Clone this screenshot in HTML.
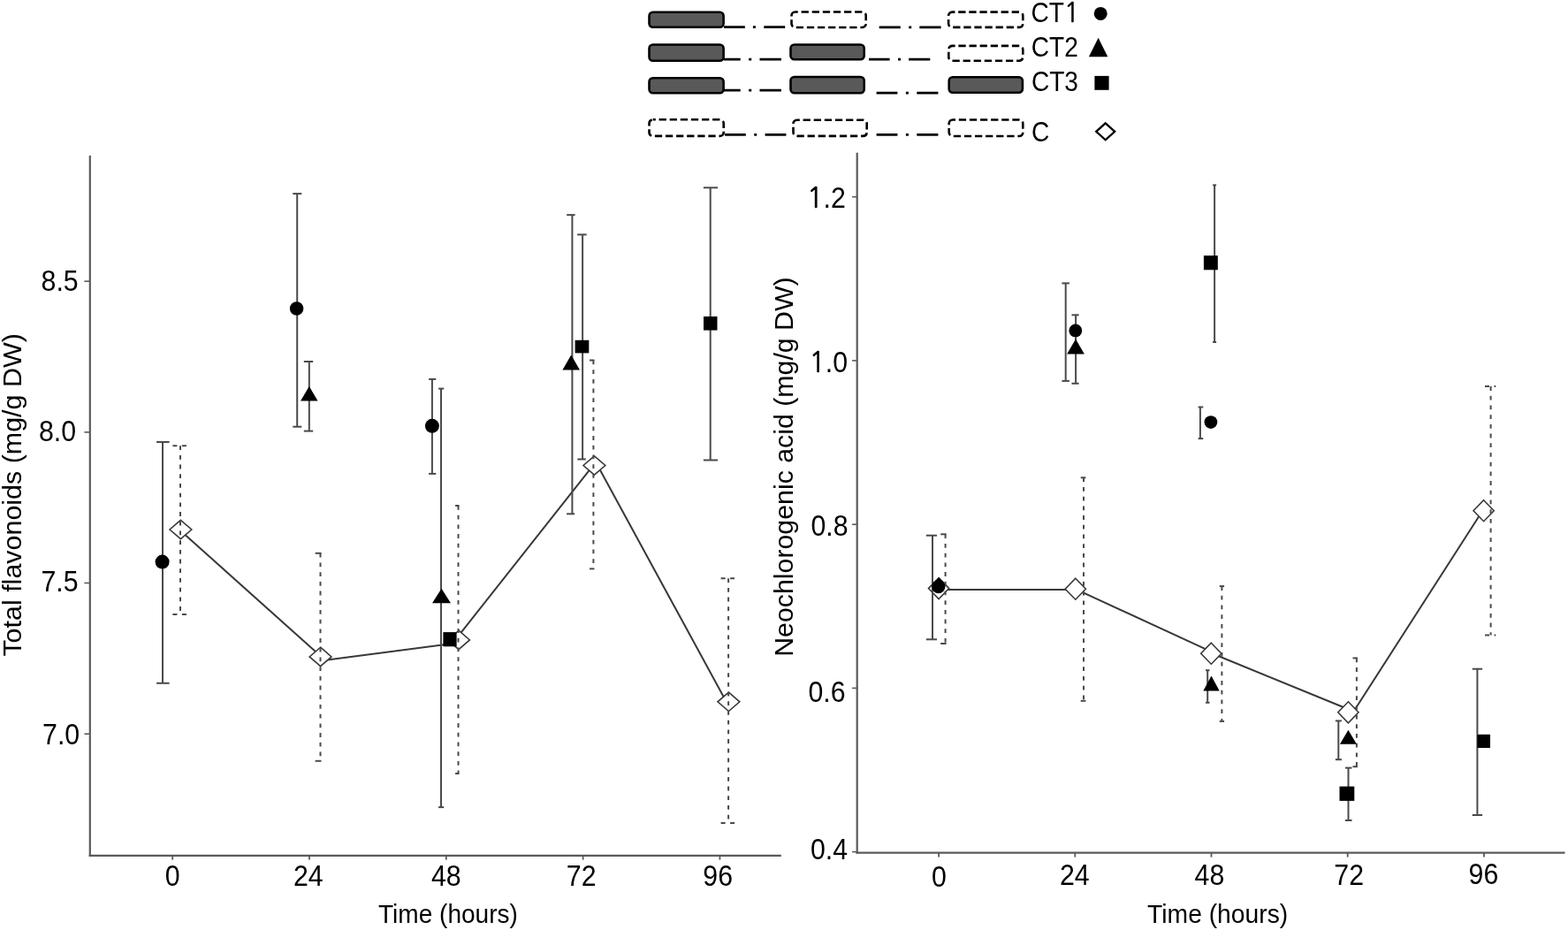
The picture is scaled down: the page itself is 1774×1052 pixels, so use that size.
<!DOCTYPE html>
<html><head><meta charset="utf-8"><title>Flavonoids and neochlorogenic acid over time</title>
<style>
html,body{margin:0;padding:0;background:#fff;}
body{width:1774px;height:1052px;overflow:hidden;}
svg{display:block;}
text{font-family:"Liberation Sans",Arial,sans-serif;fill:#000;}
</style></head>
<body>
<svg width="1774" height="1052" viewBox="0 0 1774 1052">
<rect width="1774" height="1052" fill="#fff"/>
<path d="M819 30.6H842.8M851.9 30.6H854.9M864.3 30.6H888.2" stroke="#000" stroke-width="2.7" fill="none"/>
<path d="M994.7 30.8H1018.8M1028.2 30.8H1031.2M1040.3 30.8H1064.6" stroke="#000" stroke-width="2.7" fill="none"/>
<rect x="734.50" y="13.70" width="84.10" height="17.00" rx="4.2" fill="#595959" stroke="#000" stroke-width="2.6"/>
<rect x="895.50" y="13.50" width="84.20" height="17.50" rx="4.2" fill="none" stroke="#000" stroke-width="2.6" stroke-dasharray="8.3 3.8" stroke-dashoffset="5.2"/>
<rect x="1073.10" y="13.60" width="84.20" height="17.30" rx="4.2" fill="none" stroke="#000" stroke-width="2.6" stroke-dasharray="8.3 3.8" stroke-dashoffset="5.2"/>
<path d="M819 67.2H837.7M847.2 67.2H850.2M859.5 67.2H883.9" stroke="#000" stroke-width="2.7" fill="none"/>
<path d="M983 67.2H1006.6M1016.0 67.2H1019.0M1028.1 67.2H1052.3" stroke="#000" stroke-width="2.7" fill="none"/>
<rect x="734.50" y="50.50" width="84.10" height="18.20" rx="4.2" fill="#595959" stroke="#000" stroke-width="2.6"/>
<rect x="894.50" y="50.50" width="83.20" height="16.70" rx="4.2" fill="#595959" stroke="#000" stroke-width="2.6"/>
<rect x="1073.30" y="51.90" width="84.00" height="16.80" rx="4.2" fill="none" stroke="#000" stroke-width="2.6" stroke-dasharray="8.3 3.8" stroke-dashoffset="5.2"/>
<path d="M819 102.2H837.7M847.2 102.2H850.2M859.5 102.2H883.9" stroke="#000" stroke-width="2.7" fill="none"/>
<path d="M991.6 105.2H1015.4M1024.9 105.2H1027.9M1037.3 105.2H1061.4" stroke="#000" stroke-width="2.7" fill="none"/>
<rect x="734.50" y="88.30" width="84.10" height="16.90" rx="4.2" fill="#595959" stroke="#000" stroke-width="2.6"/>
<rect x="894.50" y="87.00" width="83.20" height="18.20" rx="4.2" fill="#595959" stroke="#000" stroke-width="2.6"/>
<rect x="1073.70" y="87.20" width="83.20" height="17.50" rx="4.2" fill="#595959" stroke="#000" stroke-width="2.6"/>
<path d="M820 152.3H843.8M853.2 152.3H856.2M865.6 152.3H889.4" stroke="#000" stroke-width="2.7" fill="none"/>
<path d="M991.6 152.3H1015.4M1024.9 152.3H1027.9M1037.3 152.3H1061.4" stroke="#000" stroke-width="2.7" fill="none"/>
<rect x="734.50" y="135.30" width="84.20" height="18.60" rx="4.2" fill="none" stroke="#000" stroke-width="2.6" stroke-dasharray="8.3 3.8" stroke-dashoffset="5.2"/>
<rect x="897.50" y="135.70" width="83.20" height="18.20" rx="4.2" fill="none" stroke="#000" stroke-width="2.6" stroke-dasharray="8.3 3.8" stroke-dashoffset="5.2"/>
<rect x="1073.70" y="135.50" width="83.60" height="18.50" rx="4.2" fill="none" stroke="#000" stroke-width="2.6" stroke-dasharray="8.3 3.8" stroke-dashoffset="5.2"/>
<line x1="101.8" y1="176" x2="101.8" y2="968.9" stroke="#5a5a5a" stroke-width="2.2" />
<line x1="100.7" y1="967.8" x2="883.8" y2="967.8" stroke="#5a5a5a" stroke-width="2.2" />
<line x1="969.7" y1="172.8" x2="969.7" y2="965.8" stroke="#5a5a5a" stroke-width="2.2" />
<line x1="968.6" y1="964.7" x2="1770.5" y2="964.7" stroke="#5a5a5a" stroke-width="2.2" />
<line x1="95.4" y1="318.2" x2="101.8" y2="318.2" stroke="#5a5a5a" stroke-width="1.6" />
<line x1="95.4" y1="488.9" x2="101.8" y2="488.9" stroke="#5a5a5a" stroke-width="1.6" />
<line x1="95.4" y1="659.5" x2="101.8" y2="659.5" stroke="#5a5a5a" stroke-width="1.6" />
<line x1="95.4" y1="830.2" x2="101.8" y2="830.2" stroke="#5a5a5a" stroke-width="1.6" />
<line x1="195.2" y1="967.8" x2="195.2" y2="972.6" stroke="#5a5a5a" stroke-width="1.8" />
<line x1="350" y1="967.8" x2="350" y2="972.6" stroke="#5a5a5a" stroke-width="1.8" />
<line x1="504.8" y1="967.8" x2="504.8" y2="972.6" stroke="#5a5a5a" stroke-width="1.8" />
<line x1="659.6" y1="967.8" x2="659.6" y2="972.6" stroke="#5a5a5a" stroke-width="1.8" />
<line x1="814.4" y1="967.8" x2="814.4" y2="972.6" stroke="#5a5a5a" stroke-width="1.8" />
<line x1="964.1" y1="222.7" x2="969.7" y2="222.7" stroke="#5a5a5a" stroke-width="1.6" />
<line x1="964.1" y1="407.9" x2="969.7" y2="407.9" stroke="#5a5a5a" stroke-width="1.6" />
<line x1="964.1" y1="593.2" x2="969.7" y2="593.2" stroke="#5a5a5a" stroke-width="1.6" />
<line x1="964.1" y1="778.4" x2="969.7" y2="778.4" stroke="#5a5a5a" stroke-width="1.6" />
<line x1="964.1" y1="963.6" x2="969.7" y2="963.6" stroke="#5a5a5a" stroke-width="1.6" />
<line x1="1062.1" y1="964.7" x2="1062.1" y2="969.6" stroke="#5a5a5a" stroke-width="1.8" />
<line x1="1216.3" y1="964.7" x2="1216.3" y2="969.6" stroke="#5a5a5a" stroke-width="1.8" />
<line x1="1370.5" y1="964.7" x2="1370.5" y2="969.6" stroke="#5a5a5a" stroke-width="1.8" />
<line x1="1524.7" y1="964.7" x2="1524.7" y2="969.6" stroke="#5a5a5a" stroke-width="1.8" />
<line x1="1678.9" y1="964.7" x2="1678.9" y2="969.6" stroke="#5a5a5a" stroke-width="1.8" />
<line x1="204.4" y1="600.4" x2="362.5" y2="742" stroke="#383838" stroke-width="2" />
<line x1="362.5" y1="747.5" x2="519" y2="727" stroke="#383838" stroke-width="2" />
<line x1="519" y1="718.9" x2="672.3" y2="524.9" stroke="#383838" stroke-width="2" />
<line x1="672.3" y1="519.6" x2="824.4" y2="798.7" stroke="#383838" stroke-width="2" />
<polygon points="204.4,588.3 216.8,599 204.4,609.7 192.0,599" fill="#fff" stroke="#3a3a3a" stroke-width="1.6"/>
<polygon points="362.6,732.1999999999999 375.0,742.9 362.6,753.6 350.20000000000005,742.9" fill="#fff" stroke="#3a3a3a" stroke-width="1.6"/>
<polygon points="519,713.1999999999999 531.4,723.9 519,734.6 506.6,723.9" fill="#fff" stroke="#3a3a3a" stroke-width="1.6"/>
<polygon points="672.4,515.8 684.8,526.5 672.4,537.2 660.0,526.5" fill="#fff" stroke="#3a3a3a" stroke-width="1.6"/>
<polygon points="824.4,783.0999999999999 836.8,793.8 824.4,804.5 812.0,793.8" fill="#fff" stroke="#3a3a3a" stroke-width="1.6"/>
<line x1="204.0" y1="504.2" x2="204.0" y2="695.0" stroke="#4a4a4a" stroke-width="2" stroke-dasharray="4.8 5.9"/>
<line x1="195.4" y1="504.2" x2="211.8" y2="504.2" stroke="#4a4a4a" stroke-width="2" stroke-dasharray="5 5.5"/>
<line x1="195.4" y1="695.0" x2="211.8" y2="695.0" stroke="#4a4a4a" stroke-width="2" stroke-dasharray="5 5.5"/>
<line x1="362.5" y1="625.8" x2="362.5" y2="860.8" stroke="#4a4a4a" stroke-width="2" stroke-dasharray="4.8 5.9"/>
<line x1="356.6" y1="625.8" x2="363.5" y2="625.8" stroke="#4a4a4a" stroke-width="2" />
<line x1="356.6" y1="860.8" x2="363.5" y2="860.8" stroke="#4a4a4a" stroke-width="2" />
<line x1="518.5" y1="572" x2="518.5" y2="875" stroke="#4a4a4a" stroke-width="2" stroke-dasharray="4.8 5.9"/>
<line x1="515.1" y1="572" x2="519.5" y2="572" stroke="#4a4a4a" stroke-width="2" />
<line x1="515.1" y1="875" x2="519.5" y2="875" stroke="#4a4a4a" stroke-width="2" />
<line x1="671.4" y1="407.5" x2="671.4" y2="643.4" stroke="#4a4a4a" stroke-width="2" stroke-dasharray="4.8 5.9"/>
<line x1="667" y1="407.5" x2="672.4" y2="407.5" stroke="#4a4a4a" stroke-width="2" />
<line x1="667" y1="643.4" x2="672.4" y2="643.4" stroke="#4a4a4a" stroke-width="2" />
<line x1="824.1" y1="654.2" x2="824.1" y2="931.1" stroke="#4a4a4a" stroke-width="2" stroke-dasharray="4.8 5.9"/>
<line x1="815.6" y1="654.2" x2="831.3" y2="654.2" stroke="#4a4a4a" stroke-width="2" stroke-dasharray="5 5.5"/>
<line x1="815.6" y1="931.1" x2="831.3" y2="931.1" stroke="#4a4a4a" stroke-width="2" stroke-dasharray="5 5.5"/>
<line x1="184.0" y1="500.0" x2="184.0" y2="772.8" stroke="#4a4a4a" stroke-width="2" />
<line x1="177.1" y1="500.0" x2="191.6" y2="500.0" stroke="#4a4a4a" stroke-width="2" />
<line x1="177.1" y1="772.8" x2="191.6" y2="772.8" stroke="#4a4a4a" stroke-width="2" />
<line x1="336.2" y1="219.1" x2="336.2" y2="482.7" stroke="#4a4a4a" stroke-width="2" />
<line x1="331.3" y1="219.1" x2="341.3" y2="219.1" stroke="#4a4a4a" stroke-width="2" />
<line x1="331.3" y1="482.7" x2="341.3" y2="482.7" stroke="#4a4a4a" stroke-width="2" />
<line x1="349.8" y1="409" x2="349.8" y2="487.6" stroke="#4a4a4a" stroke-width="2" />
<line x1="343.8" y1="409" x2="354.2" y2="409" stroke="#4a4a4a" stroke-width="2" />
<line x1="343.8" y1="487.6" x2="354.2" y2="487.6" stroke="#4a4a4a" stroke-width="2" />
<line x1="488.9" y1="428.9" x2="488.9" y2="535.9" stroke="#4a4a4a" stroke-width="2" />
<line x1="485.1" y1="428.9" x2="493.3" y2="428.9" stroke="#4a4a4a" stroke-width="2" />
<line x1="485.1" y1="535.9" x2="493.3" y2="535.9" stroke="#4a4a4a" stroke-width="2" />
<line x1="499" y1="439.6" x2="499" y2="913.1" stroke="#4a4a4a" stroke-width="2" />
<line x1="496.1" y1="439.6" x2="502.2" y2="439.6" stroke="#4a4a4a" stroke-width="2" />
<line x1="496.1" y1="913.1" x2="502.2" y2="913.1" stroke="#4a4a4a" stroke-width="2" />
<line x1="647.4" y1="243.1" x2="647.4" y2="581.3" stroke="#4a4a4a" stroke-width="2" />
<line x1="641.2" y1="243.1" x2="650.6" y2="243.1" stroke="#4a4a4a" stroke-width="2" />
<line x1="641.1" y1="581.3" x2="650.2" y2="581.3" stroke="#4a4a4a" stroke-width="2" />
<line x1="659.1" y1="265.4" x2="659.1" y2="519.5" stroke="#4a4a4a" stroke-width="2" />
<line x1="653.2" y1="265.4" x2="663.7" y2="265.4" stroke="#4a4a4a" stroke-width="2" />
<line x1="653.3" y1="519.5" x2="662.8" y2="519.5" stroke="#4a4a4a" stroke-width="2" />
<line x1="803.7" y1="212.3" x2="803.7" y2="520.5" stroke="#4a4a4a" stroke-width="2" />
<line x1="795.9" y1="212.3" x2="812.1" y2="212.3" stroke="#4a4a4a" stroke-width="2" />
<line x1="795.9" y1="520.5" x2="812.1" y2="520.5" stroke="#4a4a4a" stroke-width="2" />
<circle cx="183.6" cy="635.6" r="8" fill="#000"/>
<circle cx="335.6" cy="349" r="7.8" fill="#000"/>
<polygon points="349.8,437.1 340.05,453.4 359.55,453.4" fill="#000"/>
<circle cx="488.9" cy="481.8" r="8" fill="#000"/>
<polygon points="499.5,665.7 489.0,682.3 510.0,682.3" fill="#000"/>
<rect x="501.4" y="715.1" width="15.200000000000045" height="16.199999999999932" fill="#000"/>
<polygon points="646.2,401.6 636.4000000000001,418.4 656.0,418.4" fill="#000"/>
<rect x="650.6" y="384.8" width="15.699999999999932" height="14.599999999999966" fill="#000"/>
<rect x="796" y="358" width="15.5" height="15.600000000000023" fill="#000"/>
<line x1="1062.1" y1="667" x2="1216.8" y2="666.9" stroke="#383838" stroke-width="2" />
<line x1="1216.8" y1="666.4" x2="1370.3" y2="737.1" stroke="#383838" stroke-width="2" />
<line x1="1370.3" y1="738.8" x2="1525.4" y2="802.3" stroke="#383838" stroke-width="2" />
<line x1="1525.4" y1="814.3" x2="1678.6" y2="575.7" stroke="#383838" stroke-width="2" />
<polygon points="1062.1,653.6 1073.6999999999998,665.6 1062.1,677.6 1050.5,665.6" fill="#fff" stroke="#3a3a3a" stroke-width="1.6"/>
<polygon points="1216.8,654.2 1228.3999999999999,666.2 1216.8,678.2 1205.2,666.2" fill="#fff" stroke="#3a3a3a" stroke-width="1.6"/>
<polygon points="1370.3,727.2 1381.8999999999999,739.2 1370.3,751.2 1358.7,739.2" fill="#fff" stroke="#3a3a3a" stroke-width="1.6"/>
<polygon points="1525.4,793.8 1537.0,805.8 1525.4,817.8 1513.8000000000002,805.8" fill="#fff" stroke="#3a3a3a" stroke-width="1.6"/>
<polygon points="1678.6,565.7 1690.1999999999998,577.7 1678.6,589.7 1667.0,577.7" fill="#fff" stroke="#3a3a3a" stroke-width="1.6"/>
<line x1="1069.6" y1="604.3" x2="1069.6" y2="728" stroke="#4a4a4a" stroke-width="2" stroke-dasharray="4.8 5.9"/>
<line x1="1064.2" y1="604.3" x2="1070.6" y2="604.3" stroke="#4a4a4a" stroke-width="2" />
<line x1="1064.2" y1="728" x2="1070.6" y2="728" stroke="#4a4a4a" stroke-width="2" />
<line x1="1226" y1="540.3" x2="1226" y2="792.8" stroke="#4a4a4a" stroke-width="2" stroke-dasharray="4.8 5.9"/>
<line x1="1222.7" y1="540.3" x2="1228.4" y2="540.3" stroke="#4a4a4a" stroke-width="2" />
<line x1="1222.7" y1="792.8" x2="1228.4" y2="792.8" stroke="#4a4a4a" stroke-width="2" />
<line x1="1382.4" y1="663.1" x2="1382.4" y2="815.9" stroke="#4a4a4a" stroke-width="2" stroke-dasharray="4.8 5.9"/>
<line x1="1379.7" y1="663.1" x2="1385.1" y2="663.1" stroke="#4a4a4a" stroke-width="2" />
<line x1="1379.7" y1="815.9" x2="1385.1" y2="815.9" stroke="#4a4a4a" stroke-width="2" />
<line x1="1534.9" y1="744.4" x2="1534.9" y2="867.2" stroke="#4a4a4a" stroke-width="2" stroke-dasharray="4.8 5.9"/>
<line x1="1530.5" y1="744.4" x2="1535.9" y2="744.4" stroke="#4a4a4a" stroke-width="2" />
<line x1="1530.5" y1="867.2" x2="1535.9" y2="867.2" stroke="#4a4a4a" stroke-width="2" />
<line x1="1686.6" y1="437.1" x2="1686.6" y2="718.6" stroke="#4a4a4a" stroke-width="2" stroke-dasharray="4.8 5.9"/>
<line x1="1680" y1="437.1" x2="1692.3" y2="437.1" stroke="#4a4a4a" stroke-width="2" stroke-dasharray="5 5.5"/>
<line x1="1680" y1="718.6" x2="1692.3" y2="718.6" stroke="#4a4a4a" stroke-width="2" stroke-dasharray="5 5.5"/>
<line x1="1055" y1="605.7" x2="1055" y2="723.3" stroke="#4a4a4a" stroke-width="2" />
<line x1="1047.8" y1="605.7" x2="1060" y2="605.7" stroke="#4a4a4a" stroke-width="2" />
<line x1="1047.8" y1="723.3" x2="1060" y2="723.3" stroke="#4a4a4a" stroke-width="2" />
<line x1="1205.7" y1="320.4" x2="1205.7" y2="430.9" stroke="#4a4a4a" stroke-width="2" />
<line x1="1201.4" y1="320.4" x2="1209.9" y2="320.4" stroke="#4a4a4a" stroke-width="2" />
<line x1="1201.4" y1="430.9" x2="1209.9" y2="430.9" stroke="#4a4a4a" stroke-width="2" />
<line x1="1217.1" y1="356.3" x2="1217.1" y2="433.8" stroke="#4a4a4a" stroke-width="2" />
<line x1="1212.5" y1="356.3" x2="1220.6" y2="356.3" stroke="#4a4a4a" stroke-width="2" />
<line x1="1212.5" y1="433.8" x2="1220.6" y2="433.8" stroke="#4a4a4a" stroke-width="2" />
<line x1="1374.1" y1="209.4" x2="1374.1" y2="387" stroke="#4a4a4a" stroke-width="2" />
<line x1="1372.1" y1="209.4" x2="1376.1" y2="209.4" stroke="#4a4a4a" stroke-width="2" />
<line x1="1372.1" y1="387" x2="1376.1" y2="387" stroke="#4a4a4a" stroke-width="2" />
<line x1="1357.9" y1="460.5" x2="1357.9" y2="496.1" stroke="#4a4a4a" stroke-width="2" />
<line x1="1355.6" y1="460.5" x2="1361.3" y2="460.5" stroke="#4a4a4a" stroke-width="2" />
<line x1="1355.6" y1="496.1" x2="1361.3" y2="496.1" stroke="#4a4a4a" stroke-width="2" />
<line x1="1366.2" y1="758.2" x2="1366.2" y2="794.8" stroke="#4a4a4a" stroke-width="2" />
<line x1="1364" y1="758.2" x2="1368.5" y2="758.2" stroke="#4a4a4a" stroke-width="2" />
<line x1="1364" y1="794.8" x2="1368.5" y2="794.8" stroke="#4a4a4a" stroke-width="2" />
<line x1="1514.3" y1="815.4" x2="1514.3" y2="859.2" stroke="#4a4a4a" stroke-width="2" />
<line x1="1510.9" y1="815.4" x2="1517.9" y2="815.4" stroke="#4a4a4a" stroke-width="2" />
<line x1="1510.9" y1="859.2" x2="1517.9" y2="859.2" stroke="#4a4a4a" stroke-width="2" />
<line x1="1525.5" y1="868.6" x2="1525.5" y2="928" stroke="#4a4a4a" stroke-width="2" />
<line x1="1521.9" y1="868.6" x2="1529.5" y2="868.6" stroke="#4a4a4a" stroke-width="2" />
<line x1="1521.9" y1="928" x2="1529.5" y2="928" stroke="#4a4a4a" stroke-width="2" />
<line x1="1671.4" y1="756.7" x2="1671.4" y2="922" stroke="#4a4a4a" stroke-width="2" />
<line x1="1665.7" y1="756.7" x2="1677.1" y2="756.7" stroke="#4a4a4a" stroke-width="2" />
<line x1="1665.7" y1="922" x2="1677.1" y2="922" stroke="#4a4a4a" stroke-width="2" />
<polygon points="1062.2,653.3 1067.8,659.5 1056.6,659.5" fill="#000"/>
<circle cx="1061.8" cy="663.6" r="7.7" fill="#000"/>
<circle cx="1216.8" cy="373.9" r="7.4" fill="#000"/>
<polygon points="1217,383.4 1207.15,400.6 1226.85,400.6" fill="#000"/>
<rect x="1361.9" y="289.1" width="15.899999999999864" height="16.19999999999999" fill="#000"/>
<circle cx="1369.9" cy="477.6" r="7.4" fill="#000"/>
<polygon points="1370.5,764.5 1361.3,781.6 1379.7,781.6" fill="#000"/>
<polygon points="1525.4,825.7 1515.9,841.7 1534.9,841.7" fill="#000"/>
<rect x="1515.5" y="889.6" width="16.799999999999955" height="16.299999999999955" fill="#000"/>
<rect x="1671.4" y="830.8" width="14.599999999999909" height="15.200000000000045" fill="#000"/>
<circle cx="1245.2" cy="15.4" r="7.5" fill="#000"/>
<polygon points="1242.6,42.8 1231.8999999999999,64.2 1253.3,64.2" fill="#000"/>
<rect x="1238.4" y="85.9" width="16.199999999999818" height="15.899999999999991" fill="#000"/>
<polygon points="1250.7,139.3 1261.2,148.8 1250.7,158.3 1240.2,148.8" fill="#fff" stroke="#000" stroke-width="2.3"/>
<text transform="translate(46.60,328.90) scale(1.0100,1.0950)" font-size="30">8.5</text>
<text transform="translate(44.00,498.80) scale(1.0100,1.0950)" font-size="30">8.0</text>
<text transform="translate(46.50,668.90) scale(1.0100,1.0950)" font-size="30">7.5</text>
<text transform="translate(48.10,842.30) scale(1.0100,1.0950)" font-size="30">7.0</text>
<text transform="translate(913.10,235.40) scale(1.0100,1.0950)" font-size="30"><tspan font-family="NanumGothic, Liberation Sans, sans-serif" stroke="#000" stroke-width="0.55">1</tspan>.2</text>
<text transform="translate(915.40,420.90) scale(1.0100,1.0950)" font-size="30"><tspan font-family="NanumGothic, Liberation Sans, sans-serif" stroke="#000" stroke-width="0.55">1</tspan>.0</text>
<text transform="translate(917.50,606.20) scale(1.0100,1.0950)" font-size="30">0.8</text>
<text transform="translate(914.50,794.20) scale(1.0100,1.0950)" font-size="30">0.6</text>
<text transform="translate(917.00,972.30) scale(1.0100,1.0950)" font-size="30">0.4</text>
<text transform="translate(186.70,1002.30) scale(1.0100,1.0950)" font-size="30">0</text>
<text transform="translate(331.90,1001.90) scale(1.0100,1.0950)" font-size="30">24</text>
<text transform="translate(487.90,1002.00) scale(1.0100,1.0950)" font-size="30">48</text>
<text transform="translate(640.80,1002.00) scale(1.0100,1.0950)" font-size="30">72</text>
<text transform="translate(795.30,1002.10) scale(1.0100,1.0950)" font-size="30">96</text>
<text transform="translate(1054.10,1002.60) scale(1.0100,1.0950)" font-size="30">0</text>
<text transform="translate(1199.00,1001.30) scale(1.0100,1.0950)" font-size="30">24</text>
<text transform="translate(1351.60,1001.10) scale(1.0100,1.0950)" font-size="30">48</text>
<text transform="translate(1509.30,1001.10) scale(1.0100,1.0950)" font-size="30">72</text>
<text transform="translate(1661.60,1000.10) scale(1.0100,1.0950)" font-size="30">96</text>
<text transform="translate(428.00,1044.20) scale(0.9911,1.0266)" font-size="28.3">Time (hours)</text>
<text transform="translate(1298.10,1044.20) scale(0.9988,1.0266)" font-size="28.3">Time (hours)</text>
<text transform="translate(23.90,742.60) rotate(-90) scale(1.0151,0.9653)" font-size="30">Total flavonoids (mg/g DW)</text>
<text transform="translate(896.80,742.80) rotate(-90) scale(1.0105,0.9603)" font-size="30">Neochlorogenic acid (mg/g DW)</text>
<text transform="translate(1166.60,25.20) scale(1.0400,1.1600)" font-size="27">CT<tspan font-family="NanumGothic, Liberation Sans, sans-serif" stroke="#000" stroke-width="0.55">1</tspan></text>
<text transform="translate(1166.80,63.90) scale(1.0400,1.1600)" font-size="27">CT2</text>
<text transform="translate(1166.90,102.80) scale(1.0400,1.1600)" font-size="27">CT3</text>
<text transform="translate(1166.90,160.10) scale(1.0400,1.1600)" font-size="27">C</text>
</svg>
</body></html>
